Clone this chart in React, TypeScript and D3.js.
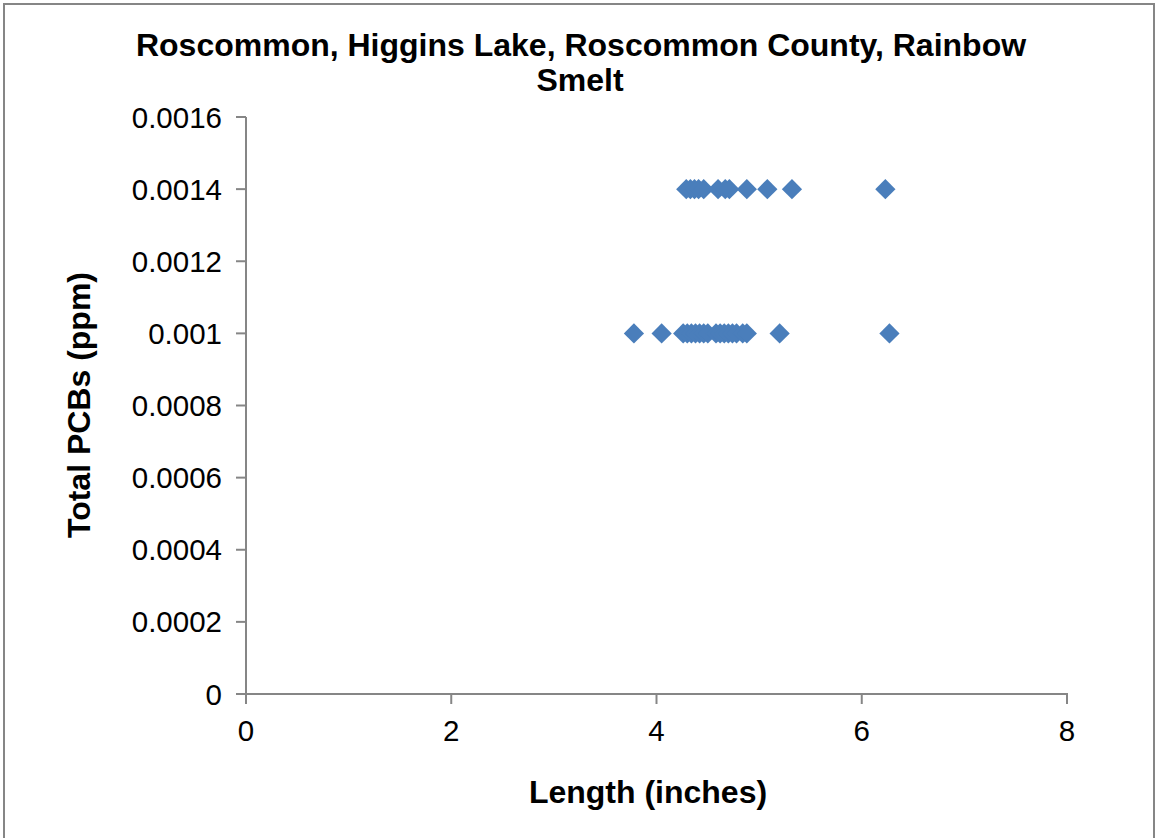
import React from "react";
import * as d3 from "d3";

const title1 = "Roscommon, Higgins Lake, Roscommon County, Rainbow";
const title2 = "Smelt";
const xLabel = "Length (inches)";
const yLabel = "Total PCBs (ppm)";

const xTicks = [0, 2, 4, 6, 8];
const yTicks = [0, 0.0002, 0.0004, 0.0006, 0.0008, 0.001, 0.0012, 0.0014, 0.0016];
const yTickLabels = ["0", "0.0002", "0.0004", "0.0006", "0.0008", "0.001", "0.0012", "0.0014", "0.0016"];

const lengthsHigh = [4.29, 4.33, 4.37, 4.41, 4.46, 4.6, 4.67, 4.71, 4.88, 5.08, 5.32, 6.23];
const lengthsLow = [3.78, 4.05, 4.26, 4.3, 4.34, 4.38, 4.42, 4.46, 4.5, 4.58, 4.62, 4.66, 4.7, 4.74, 4.78, 4.84, 4.88, 5.2, 6.27];
const pcbHigh = 0.0014;
const pcbLow = 0.001;

const points = [
  ...lengthsHigh.map((x) => ({ x, y: pcbHigh })),
  ...lengthsLow.map((x) => ({ x, y: pcbLow })),
];

export default function App() {
  const W = 1156;
  const H = 838;
  const x = d3.scaleLinear().domain([0, 8]).range([246, 1067]);
  const y = d3.scaleLinear().domain([0, 0.0016]).range([694, 117]);
  const axisColor = "#868686";
  const font = "'Liberation Sans', Arial, sans-serif";
  const diamond = d3.symbol().type(d3.symbolSquare).size(205)();

  return (
    <svg
      width={W}
      height={H}
      style={{ position: "absolute", left: 0, top: 0, background: "#fff" }}
      fontFamily={font}
    >
      <rect x={0} y={0} width={W} height={H} fill="#fff" />
      {/* chart frame */}
      <path d={`M4,${H + 5} V4 H1154 V${H + 5}`} fill="none" stroke={axisColor} strokeWidth={2} />

      {/* title */}
      <text x={581} y={56} textAnchor="middle" fontSize={32} fontWeight="bold">{title1}</text>
      <text x={580} y={91} textAnchor="middle" fontSize={32} fontWeight="bold">{title2}</text>

      {/* y axis */}
      <line x1={x(0)} x2={x(0)} y1={y(0.0016)} y2={y(0) + 1} stroke={axisColor} strokeWidth={2} />
      {yTicks.map((t, i) => (
        <g key={`yt${i}`}>
          <line x1={x(0) - 10} x2={x(0)} y1={y(t)} y2={y(t)} stroke={axisColor} strokeWidth={2} />
          <text x={222} y={y(t)} dy="0.36em" textAnchor="end" fontSize={29.5} fill="#000">{yTickLabels[i]}</text>
        </g>
      ))}

      {/* x axis */}
      <line x1={x(0) - 10} x2={x(8) + 1} y1={y(0)} y2={y(0)} stroke={axisColor} strokeWidth={2} />
      {xTicks.map((t) => (
        <g key={`xt${t}`}>
          <line x1={x(t)} x2={x(t)} y1={y(0)} y2={y(0) + 10} stroke={axisColor} strokeWidth={2} />
          <text x={x(t)} y={741} textAnchor="middle" fontSize={29.5} fill="#000">{t}</text>
        </g>
      ))}

      {/* axis titles */}
      <text x={648} y={803} textAnchor="middle" fontSize={32} fontWeight="bold">{xLabel}</text>
      <text transform={`translate(90,405) rotate(-90)`} textAnchor="middle" fontSize={32} fontWeight="bold">{yLabel}</text>

      {/* points */}
      {points.map((p, i) => (
        <path
          key={`p${i}`}
          d={diamond || ""}
          transform={`translate(${x(p.x)},${y(p.y)}) rotate(45)`}
          fill="#4a7ebb"
        />
      ))}
    </svg>
  );
}
